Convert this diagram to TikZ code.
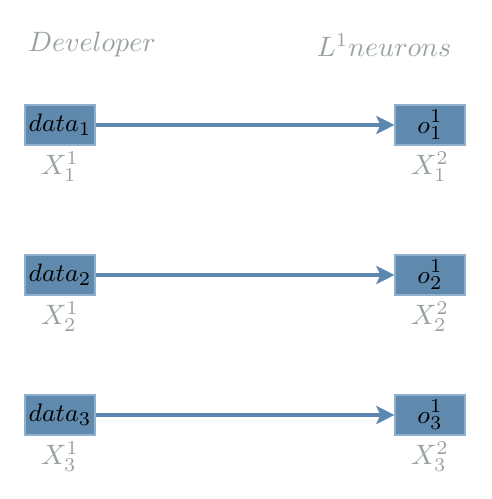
\documentclass[tikz,border=0pt]{standalone}
\usetikzlibrary{arrows.meta}
\definecolor{boxfill}{HTML}{5F8AAE}
\definecolor{boxline}{HTML}{8FB0CC}
\definecolor{arrowc}{HTML}{5B87B0}
\definecolor{labelc}{HTML}{98A29F}
\begin{document}
\begin{tikzpicture}[x=0.357pt,y=-0.357pt,
  cell/.style={draw=boxline,fill=boxfill,line width=0.4pt,minimum width=70*0.357pt,minimum height=40*0.357pt,inner sep=0pt,font=\fontsize{9.5}{11}\selectfont},
  sublabel/.style={text=labelc,inner sep=0pt},
  conn/.style={draw=arrowc,line width=1.1pt,-{Stealth[length=6.5pt,width=6.5pt,inset=1.5pt]}},
  head/.style={text=labelc,inner sep=0pt}]
\path[use as bounding box] (0,0) rectangle (491,499);
\node[head] (dev) at (92,45) {$Developer$};
\node[head] (lay) at (384,45) {$L^1 neurons$};
\foreach \i/\y in {1/125,2/275,3/415}{
  \node[cell] (d\i) at (60,\y) {$data_{\i}$};
  \node[cell] (o\i) at (430,\y) {$o^1_{\i}$};
  \node[sublabel,below=2pt] (xl\i) at (d\i.south) {$X^1_{\i}$};
  \node[sublabel,below=2pt] (xr\i) at (o\i.south) {$X^2_{\i}$};
  \draw[conn] (d\i) -- (o\i);
}
\end{tikzpicture}
\end{document}
